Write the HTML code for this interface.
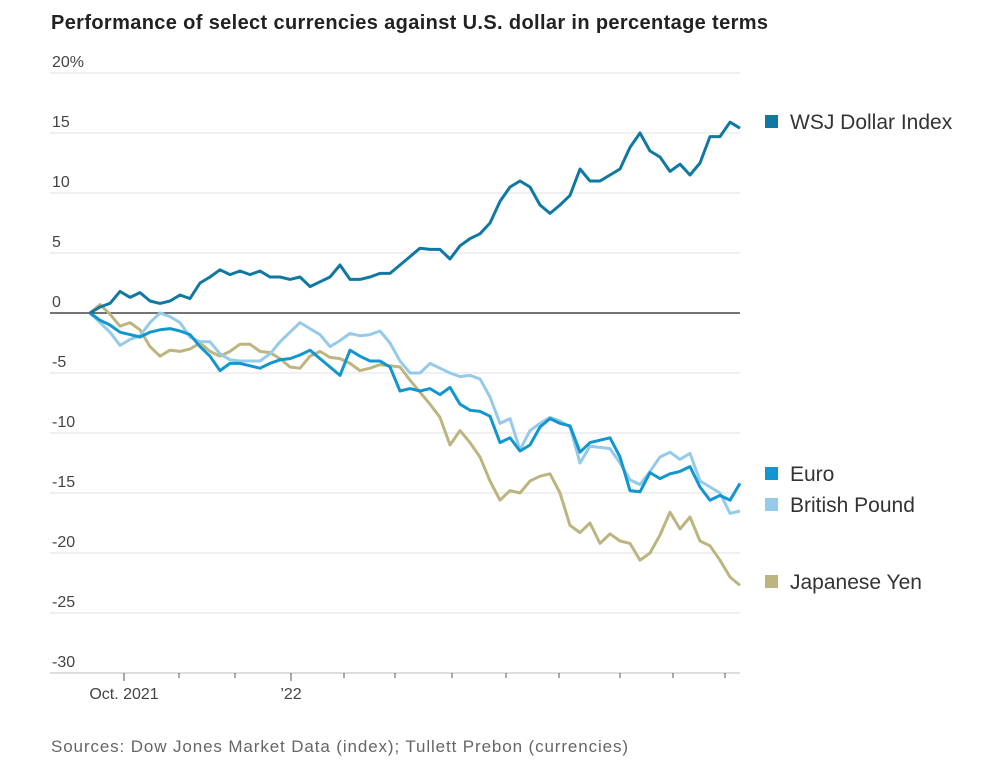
<!DOCTYPE html>
<html><head><meta charset="utf-8">
<style>
body{margin:0;background:#fff;width:986px;height:776px;overflow:hidden;font-family:"Liberation Sans",sans-serif;}
</style></head>
<body>
<svg id="chart" width="986" height="776" xmlns="http://www.w3.org/2000/svg">
<text x="51" y="29" font-size="20" font-weight="bold" fill="#222" textLength="717" font-family="Liberation Sans, sans-serif">Performance of select currencies against U.S. dollar in percentage terms</text>
<g id="grid"></g>
<g id="lines"></g>
<g id="legend"></g>
<text x="51" y="752" font-size="17" fill="#666" textLength="577" font-family="Liberation Sans, sans-serif">Sources: Dow Jones Market Data (index); Tullett Prebon (currencies)</text>
</svg>
<script>
const yTicks=[20,15,10,5,0,-5,-10,-15,-20,-25,-30];
const yTickLabels=["20%","15","10","5","0","-5","-10","-15","-20","-25","-30"];
const xTickIdx=[3.4,8.9,14.5,20.1,25.4,30.5,36.2,41.6,46.9,53,58.3,63.5];
const xTickLabels=["Oct. 2021","","","’22","","","","","","","",""];
const wsj=[0,0.5,0.8,1.8,1.3,1.7,1.0,0.8,1.0,1.5,1.2,2.5,3.0,3.6,3.2,3.5,3.2,3.5,3.0,3.0,2.8,3.0,2.2,2.6,3.0,4.0,2.8,2.8,3.0,3.3,3.3,4.0,4.7,5.4,5.3,5.3,4.5,5.6,6.2,6.6,7.5,9.3,10.5,11.0,10.5,9.0,8.3,9.0,9.8,12.0,11.0,11.0,11.5,12.0,13.8,15.0,13.5,13.0,11.8,12.4,11.5,12.5,14.7,14.7,15.9,15.4];
const euro=[0,-0.6,-1,-1.6,-1.8,-2,-1.6,-1.4,-1.3,-1.5,-1.8,-2.8,-3.6,-4.8,-4.2,-4.2,-4.4,-4.6,-4.2,-3.9,-3.8,-3.5,-3.1,-3.8,-4.5,-5.2,-3.1,-3.6,-4.0,-4.0,-4.5,-6.5,-6.3,-6.5,-6.3,-6.8,-6.2,-7.6,-8.1,-8.2,-8.6,-10.8,-10.4,-11.5,-11,-9.5,-8.8,-9.2,-9.4,-11.6,-10.8,-10.6,-10.4,-12,-14.8,-14.9,-13.3,-13.8,-13.4,-13.2,-12.8,-14.5,-15.6,-15.2,-15.6,-14.2];
const pound=[0,-0.8,-1.6,-2.7,-2.2,-1.9,-0.8,0,-0.3,-0.8,-2,-2.4,-2.4,-3.4,-3.9,-4,-4,-4,-3.4,-2.4,-1.6,-0.8,-1.3,-1.8,-2.8,-2.3,-1.7,-1.9,-1.8,-1.5,-2.5,-4,-5,-5,-4.2,-4.6,-5,-5.3,-5.2,-5.5,-7,-9.2,-8.8,-11.4,-9.8,-9.2,-8.7,-9.0,-9.5,-12.5,-11.1,-11.2,-11.3,-12.5,-13.9,-14.3,-13.2,-12,-11.6,-12.2,-11.7,-14,-14.5,-15,-16.7,-16.5];
const yen=[0,0.7,-0.1,-1.1,-0.8,-1.4,-2.8,-3.6,-3.1,-3.2,-3.0,-2.5,-3.2,-3.6,-3.2,-2.6,-2.6,-3.2,-3.3,-3.8,-4.5,-4.6,-3.6,-3.2,-3.7,-3.8,-4.2,-4.8,-4.6,-4.3,-4.4,-4.5,-5.6,-6.6,-7.6,-8.7,-11,-9.8,-10.8,-12,-14,-15.6,-14.8,-15,-14,-13.6,-13.4,-15,-17.7,-18.3,-17.5,-19.2,-18.4,-19.0,-19.2,-20.6,-20,-18.5,-16.6,-18,-17,-19,-19.4,-20.6,-22,-22.7];
const seriesNames=["Japanese Yen","British Pound","Euro","WSJ Dollar Index"];

const NS="http://www.w3.org/2000/svg";
const N=wsj.length;
function xScale(i){return 90+i*650/(N-1);}
function yScale(v){return 313-v*12;}
function mk(tag,attrs,parent){const e=document.createElementNS(NS,tag);for(const k in attrs)e.setAttribute(k,attrs[k]);parent.appendChild(e);return e;}
const grid=document.getElementById('grid');
const bottom=yScale(yTicks[yTicks.length-1]);
yTicks.forEach((t,i)=>{
  const isZero=t===0, isBottom=i===yTicks.length-1;
  const l=mk('line',{x1:50,x2:740,y1:yScale(t),y2:yScale(t),stroke:isZero?'#222':(isBottom?'#bbb':'#e0e0e0'),'stroke-width':isZero?1.3:1},grid);
  
  
  const tx=mk('text',{x:52,y:yScale(t)-6,'font-size':16,fill:'#444','font-family':'Liberation Sans, sans-serif'},grid);
  tx.textContent=yTickLabels[i];
  
  
});
xTickIdx.forEach((t,i)=>{
  const x=xScale(t);
  const big=xTickLabels[i]!=="";
  const tk=mk('line',{x1:x,x2:x,y1:bottom,y2:big?bottom+8:bottom+5,stroke:'#555','stroke-width':1},grid);
  
  
  if(big){
    const tx=mk('text',{x:x,y:bottom+26,'font-size':16,fill:'#444','text-anchor':'middle','font-family':'Liberation Sans, sans-serif'},grid);
    tx.textContent=xTickLabels[i];
    
    
  }
});
const lines=document.getElementById('lines');
const datasets=[yen,pound,euro,wsj];
const colors=["#bdb57f","#95caea","#1196d0","#0f78a3"];
const lnames=["yen-line","pound-line","euro-line","wsj-dollar-index-line"];
datasets.forEach((d,k)=>{
  const p=mk('path',{d:d.map((v,i)=>(i?'L':'M')+xScale(i).toFixed(1)+','+yScale(v).toFixed(1)).join(''),fill:'none',stroke:colors[k],'stroke-width':3,'stroke-linejoin':'round'},lines);
  
  
});
const legend=document.getElementById('legend');
const legY=[581,504,473,121];
seriesNames.forEach((n,k)=>{
  const r=mk('rect',{x:765,y:legY[k]-6,width:13,height:13,fill:colors[k]},legend);
  
  
  const t=mk('text',{x:790,y:legY[k]+8,'font-size':21,fill:'#333','font-family':'Liberation Sans, sans-serif'},legend);
  t.textContent=n;
  
  
});
</script>
</body></html>
